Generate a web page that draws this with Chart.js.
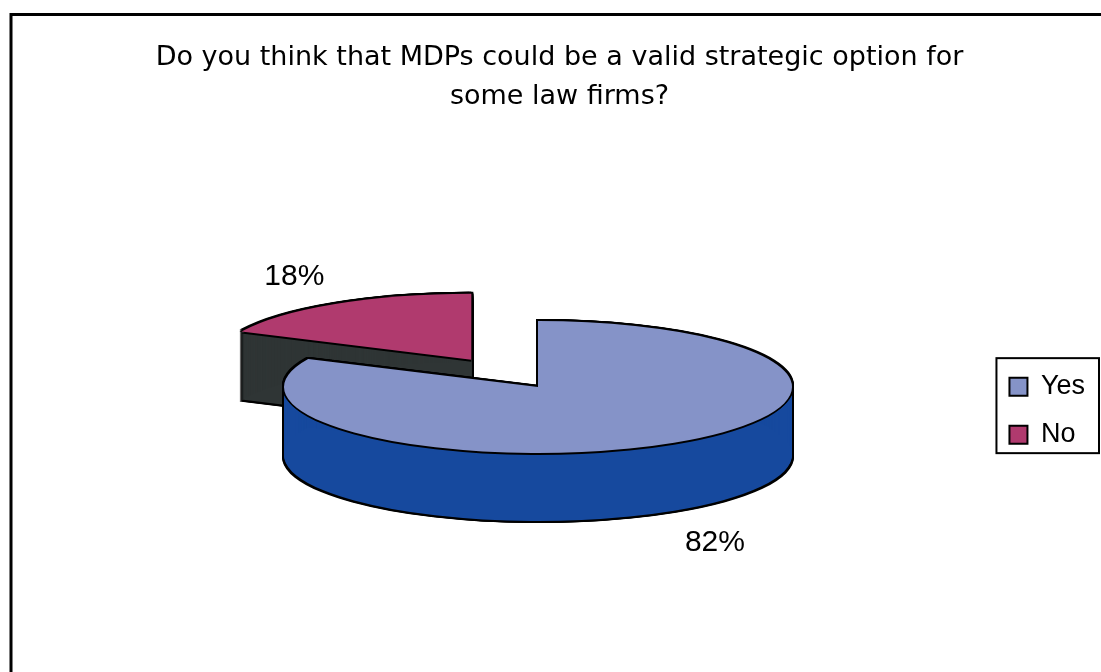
<!DOCTYPE html>
<html>
<head>
<meta charset="utf-8">
<script src="https://cdn.jsdelivr.net/npm/chart.js@4.4.1/dist/chart.umd.min.js"></script>
<style>
  html, body { margin: 0; padding: 0; background: #fff; }
  canvas { display: block; }
</style>
</head>
<body>
<canvas id="chart" width="1101" height="672"></canvas>
<script>
// data
const categories = ['Yes', 'No'];
const shares = [82, 18];
const titleLines = ['Do you think that MDPs could be a valid strategic option for', 'some law firms?'];

// look
const FONT = '"Liberation Sans", Arial, sans-serif';
const TITLE_FONT = '"DejaVu Sans", Verdana, sans-serif';
const topColors = ['#8593C8', '#B03A6E'];
const sideColors = ['#16499E', '#2F3535'];
const explode = [0, 0.49];          // fraction of radius each slice is pulled out
const view = { cx: 538, cy: 387, rx: 254, ry: 66, depth: 68 };

// draw one arc element squashed into the tilted ellipse, with a temporary fill
function drawArcAs(ctx, arc, place, dx, dy, fill) {
    const saved = arc.options;
    arc.options = Object.assign({}, saved, { backgroundColor: fill, borderWidth: 0, offset: 0, spacing: 0 });
    ctx.save();
    ctx.translate(place.x + dx, place.y + dy);
    ctx.scale(view.rx / arc.outerRadius, view.ry / arc.outerRadius);
    ctx.translate(-arc.x, -arc.y);
    arc.draw(ctx);
    ctx.restore();
    arc.options = saved;
}

function slicePlace(arc, i) {
    const mid = (arc.startAngle + arc.endAngle) / 2;
    return {
        x: view.cx + Math.cos(mid) * view.rx * explode[i],
        y: view.cy + Math.sin(mid) * view.ry * explode[i],
        mid: mid,
    };
}

const pie3d = {
    id: 'pie3d',
    beforeDraw(chart) {
        // outer frame
        const ctx = chart.ctx;
        ctx.save();
        ctx.strokeStyle = '#000';
        ctx.lineWidth = 3;
        ctx.strokeRect(11, 14.5, 1110, 700);
        ctx.restore();
    },
    beforeDatasetsDraw(chart) {
        const ctx = chart.ctx;
        const meta = chart.getDatasetMeta(0);
        const halo = 2;
        const order = meta.data.map((arc, i) => ({ arc, i, p: slicePlace(arc, i) }))
            .sort((a, b) => a.p.y - b.p.y);
        order.forEach(({ arc, i, p }) => {
            for (let d = -halo; d <= view.depth + halo; d++) {
                for (const dx of [-halo, 0, halo]) drawArcAs(ctx, arc, p, dx, d, '#000');
            }
            for (let d = 1; d <= view.depth; d++) drawArcAs(ctx, arc, p, 0, d, sideColors[i]);
            [[-halo, 0], [halo, 0], [0, -halo], [0, halo]].forEach(([dx, dy]) => drawArcAs(ctx, arc, p, dx, dy, '#000'));
            drawArcAs(ctx, arc, p, 0, 0, topColors[i]);
        });
        // percentage labels
        ctx.save();
        ctx.fillStyle = '#000';
        ctx.font = '30px ' + FONT;
        ctx.textAlign = 'center';
        ctx.textBaseline = 'middle';
        order.forEach(({ i, p }) => {
            const front = Math.sin(p.mid) > 0;
            const x = p.x + Math.cos(p.mid) * view.rx * 1.3;
            const y = p.y + Math.sin(p.mid) * view.ry * 1.3 + (front ? view.depth + 15 : -11);
            ctx.fillText(shares[i] + '%', x, y);
        });
        ctx.restore();
        return false;
    },
    afterDraw(chart) {
        // box round the legend
        const boxes = chart.legend.legendHitBoxes;
        if (!boxes || !boxes.length) return;
        const first = boxes[0], last = boxes[boxes.length - 1];
        const left = Math.min(...boxes.map(b => b.left)) - 13;
        const right = Math.max(...boxes.map(b => b.left + b.width)) + 14;
        const top = first.top - 15;
        const bottom = last.top + last.height + 5;
        const ctx = chart.ctx;
        ctx.save();
        ctx.strokeStyle = '#000';
        ctx.lineWidth = 2;
        ctx.strokeRect(left, top, right - left, bottom - top);
        ctx.restore();
    },
};

new Chart(document.getElementById('chart'), {
    type: 'pie',
    data: {
        labels: categories,
        datasets: [{
            data: shares,
            backgroundColor: topColors,
            borderColor: '#000',
            borderWidth: 2,
        }],
    },
    options: {
        responsive: false,
        animation: false,
        layout: { padding: { left: 24, right: 6, top: 0, bottom: 0 } },
        plugins: {
            title: {
                display: true,
                text: titleLines,
                color: '#000',
                font: { family: TITLE_FONT, size: 27, weight: 'normal', lineHeight: 1.45 },
                padding: { top: 38, bottom: 33 },
            },
            legend: {
                position: 'right',
                fullSize: false,
                labels: {
                    color: '#000',
                    font: { family: FONT, size: 27 },
                    boxWidth: 18,
                    boxHeight: 18,
                    padding: 21,
                },
            },
            tooltip: { enabled: false },
        },
    },
    plugins: [pie3d],
});
</script>
</body>
</html>
